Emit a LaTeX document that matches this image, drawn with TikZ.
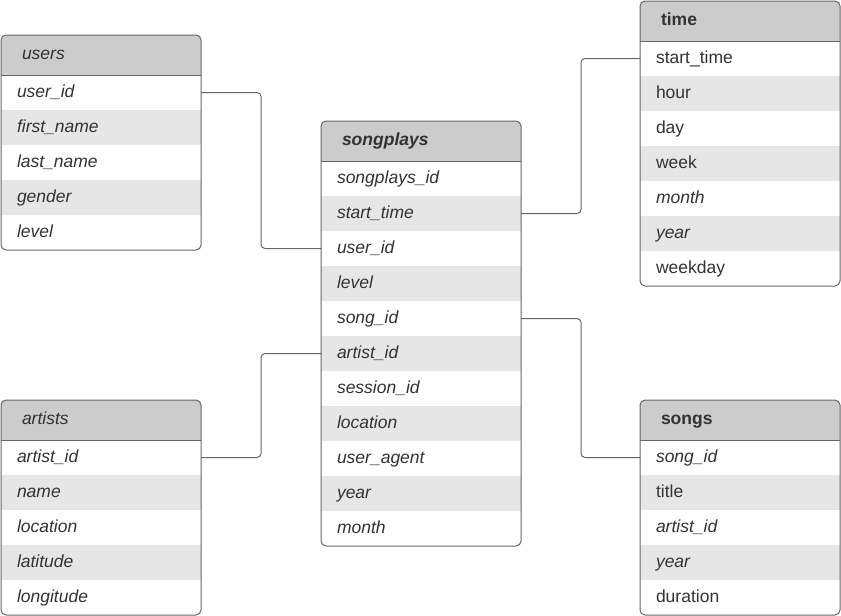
\documentclass[tikz,border=0pt]{standalone}
\usepackage{fontspec}
\setmainfont{Liberation Sans}
\usetikzlibrary{positioning}

\definecolor{headgray}{HTML}{CCCCCC}
\definecolor{rowgray}{HTML}{E6E6E6}
\definecolor{textgray}{HTML}{333333}
\definecolor{edgegray}{HTML}{666666}

\newcommand{\tablefont}{\fontsize{17.5pt}{21pt}\selectfont}

\tikzset{
    head/.style  = {rectangle, fill=headgray, text=textgray, anchor=north west,
                    minimum width=200pt, minimum height=40pt, text width=158pt,
                    inner xsep=21pt, inner ysep=0pt, outer sep=0pt, align=left,
                    text height=13pt, text depth=4pt},
    field/.style = {rectangle, text=textgray, font=\tablefont,
                    minimum width=200pt, minimum height=35pt, text width=168pt,
                    inner xsep=16pt, inner ysep=0pt, outer sep=0pt, align=left,
                    text height=13pt, text depth=4pt},
    frame/.style = {draw=edgegray, line width=1pt, rounded corners=5pt},
    link/.style  = {draw=edgegray, line width=1pt, rounded corners=4pt}
}

% name, top left corner, number of fields, title, title font, fields
\newcommand{\erdtable}[6]{%
    \begin{scope}
        \clip[rounded corners=5pt] #2 rectangle ++(200,40+35*#3);
        \node[head, font=\tablefont#5] (#1-0) at #2 {#4};
        \foreach \field [count=\i] in {#6} {
            \pgfmathtruncatemacro\prev{\i-1}
            \ifodd\i \def\shade{white}\else \def\shade{rowgray}\fi
            \node[field, fill=\shade, below=0pt of #1-\prev] (#1-\i) {\field};
        }
    \end{scope}
    \draw[edgegray, line width=1pt] (#1-0.south west) -- (#1-0.south east);
    \draw[frame] #2 rectangle ++(200,40+35*#3);
}

\begin{document}
\begin{tikzpicture}[x=1pt, y=-1pt]
    \useasboundingbox (0,0) rectangle (841,616);

    \erdtable{users}{(1,35)}{5}{users}{\itshape}
        {\textit{user\_id}, \textit{first\_name}, \textit{last\_name}, \textit{gender}, \textit{level}}
    \erdtable{sp}{(321,121)}{11}{songplays}{\bfseries\itshape}
        {\textit{songplays\_id}, \textit{start\_time}, \textit{user\_id}, \textit{level},
         \textit{song\_id}, \textit{artist\_id}, \textit{session\_id}, \textit{location},
         \textit{user\_agent}, \textit{year}, \textit{month}}
    \erdtable{time}{(640,1)}{7}{time}{\bfseries}
        {start\_time, hour, day, week, \textit{month}, \textit{year}, weekday}
    \erdtable{artists}{(1,400)}{5}{artists}{\itshape}
        {\textit{artist\_id}, \textit{name}, \textit{location}, \textit{latitude}, \textit{longitude}}
    \erdtable{songs}{(640,400)}{5}{songs}{\bfseries}
        {\textit{song\_id}, title, \textit{artist\_id}, \textit{year}, duration}

    % relations
    \draw[link] (users-1.east) -- ++(60,0) |- (sp-3.west);
    \draw[link] (sp-2.east) -- ++(60,0) |- (time-1.west);
    \draw[link] (sp-5.east) -- ++(60,0) |- (songs-1.west);
    \draw[link] (artists-1.east) -- ++(60,0) |- (sp-6.west);
\end{tikzpicture}
\end{document}
